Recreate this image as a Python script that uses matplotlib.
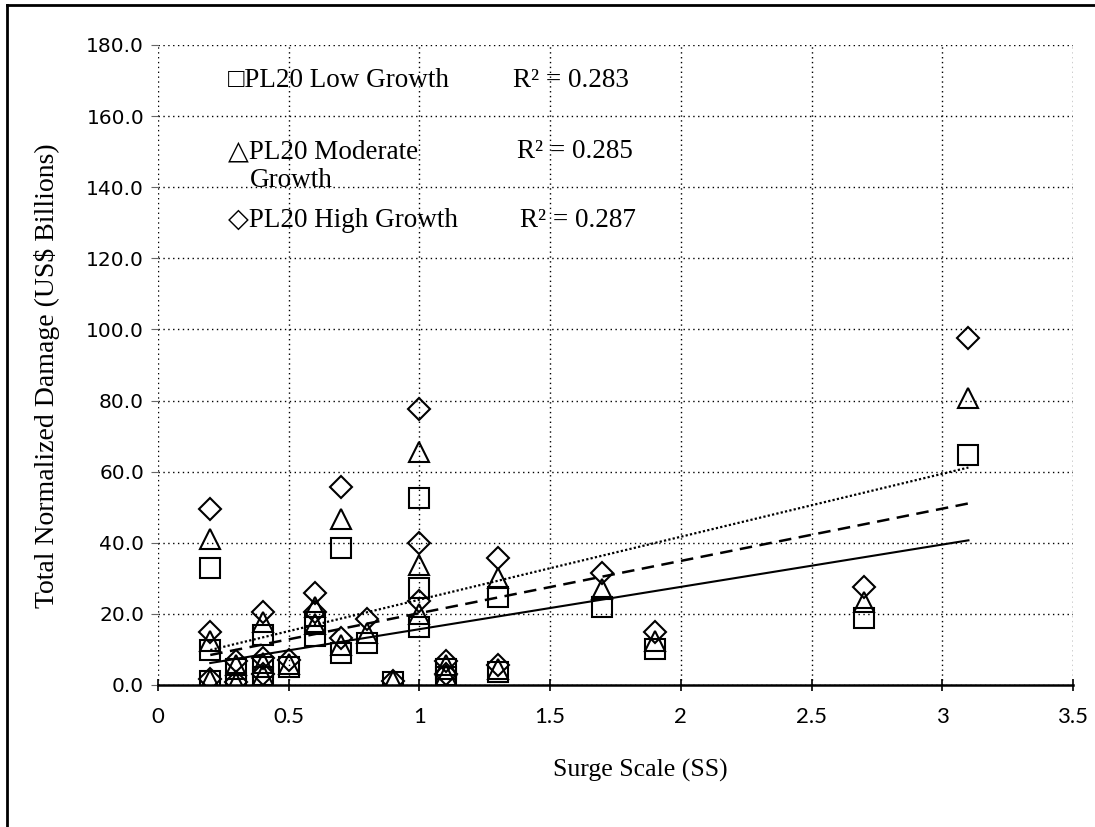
import matplotlib
matplotlib.use("Agg")
import matplotlib.pyplot as plt
import numpy as np
from matplotlib.lines import Line2D

# surge scale of each event
surge_scale = [0.2, 0.2, 0.2, 0.3, 0.3, 0.4, 0.4, 0.4, 0.5, 0.6, 0.6, 0.7, 0.7,
               0.8, 0.9, 1.0, 1.0, 1.0, 1.1, 1.1, 1.3, 1.3, 1.7, 1.9, 2.7, 3.1]

# total normalized damage (US$ billions)
low_growth = [33.0, 9.8, 1.1, 4.5, 0.6, 14.2, 2.2, 5.0, 5.0, 17.8, 13.8, 38.5, 9.0,
              11.7, 0.8, 52.7, 27.2, 16.2, 2.2, 4.6, 24.7, 3.7, 21.8, 10.0, 18.8, 64.8]
moderate_growth = [41.2, 12.3, 1.4, 5.6, 0.7, 17.7, 2.7, 6.2, 6.0, 22.0, 17.2, 46.8, 11.2,
                   14.6, 1.0, 65.5, 33.8, 20.0, 2.7, 5.7, 30.0, 4.6, 27.0, 12.4, 23.3, 80.8]
high_growth = [49.5, 14.8, 1.7, 6.7, 0.8, 20.5, 3.2, 7.6, 7.0, 26.0, 20.6, 55.8, 13.2,
               18.7, 1.2, 77.5, 39.8, 23.6, 3.2, 6.7, 35.7, 5.6, 31.5, 14.8, 27.6, 97.5]

# linear trend lines (slope, intercept) over the data range
trend_range = [0.2, 3.1]
low_fit = [11.9, 3.8]
moderate_fit = [14.7, 5.5]
high_fit = [17.7, 6.3]

# in-plot key: (text, x, y) in data units
key_texts = [("\u25a1PL20 Low Growth", 0.268, 170.0),
             ("\u25b3PL20 Moderate", 0.268, 150.0),
             ("Growth", 0.351, 141.9),
             ("\u25c7PL20 High Growth", 0.268, 130.7)]
r2_texts = [("R\u00b2 = 0.283", 1.358, 170.0),
            ("R\u00b2 = 0.285", 1.372, 150.0),
            ("R\u00b2 = 0.287", 1.385, 130.7)]

x_ticks = [0, 0.5, 1, 1.5, 2, 2.5, 3, 3.5]
x_tick_labels = ["0", "0.5", "1", "1.5", "2", "2.5", "3", "3.5"]
y_ticks = np.arange(0, 181, 20)

serif = ["Liberation Serif", "DejaVu Serif"]

fig = plt.figure(figsize=(10.95, 8.27), dpi=100)
ax = fig.add_axes([158 / 1095, 1 - 685 / 827, (1073 - 158) / 1095, (685 - 45) / 827])

mk = dict(linestyle="none", markerfacecolor="none", markeredgecolor="black",
          markeredgewidth=1.5, zorder=3)
ax.plot(surge_scale, high_growth, marker="D", markersize=11, **mk)
ax.plot(surge_scale, moderate_growth, marker="^", markersize=14, **mk)
ax.plot(surge_scale, low_growth, marker="s", markersize=14, **mk)

tx = np.array(trend_range)
ax.plot(tx, np.polyval(low_fit, tx), color="black", lw=1.5, ls="-", zorder=4)
ax.plot(tx, np.polyval(moderate_fit, tx), color="black", lw=1.8, ls=(0, (5, 3)), zorder=4)
ax.plot(tx, np.polyval(high_fit, tx), color="black", lw=1.6, ls=(0, (1, 1)), zorder=4)

ax.set_xlim(0, 3.5)
ax.set_ylim(0, 180)
ax.set_xticks(x_ticks)
ax.set_xticklabels(x_tick_labels, family=["Lato", "DejaVu Sans"], fontsize=16)
ax.set_yticks(y_ticks)
ax.set_yticklabels([f"{v:.1f}" for v in y_ticks], family="DejaVu Sans", fontsize=14.5)

ax.grid(True, color="black", ls=(0, (1, 2.5)), lw=1.0)
ax.set_axisbelow(True)
for side in ["top", "left", "right"]:
    ax.spines[side].set_visible(False)
ax.spines["bottom"].set_linewidth(1.8)
ax.tick_params(axis="x", direction="inout", length=9, width=1.2, pad=11)
ax.tick_params(axis="y", length=5, width=0.8, color="0.4", pad=5)

ax.set_xlabel("Surge Scale (SS)", family=serif, fontsize=18.5)
ax.xaxis.set_label_coords(0.527, -0.116)
ax.set_ylabel("Total Normalized Damage (US$ Billions)", family=serif, fontsize=20)
ax.yaxis.set_label_coords(-0.107, 0.483)

for txt, xx, yy in key_texts + r2_texts:
    ax.text(xx, yy, txt, family=serif, fontsize=19.5, va="center", ha="left")

# outer frame of the scanned figure (left and top edges)
fig.add_artist(Line2D([7 / 1095, 7 / 1095], [0, 1 - 5 / 827], color="black", lw=2))
fig.add_artist(Line2D([7 / 1095, 1], [1 - 5 / 827, 1 - 5 / 827], color="black", lw=2))

fig.savefig("out.png", dpi=100)
